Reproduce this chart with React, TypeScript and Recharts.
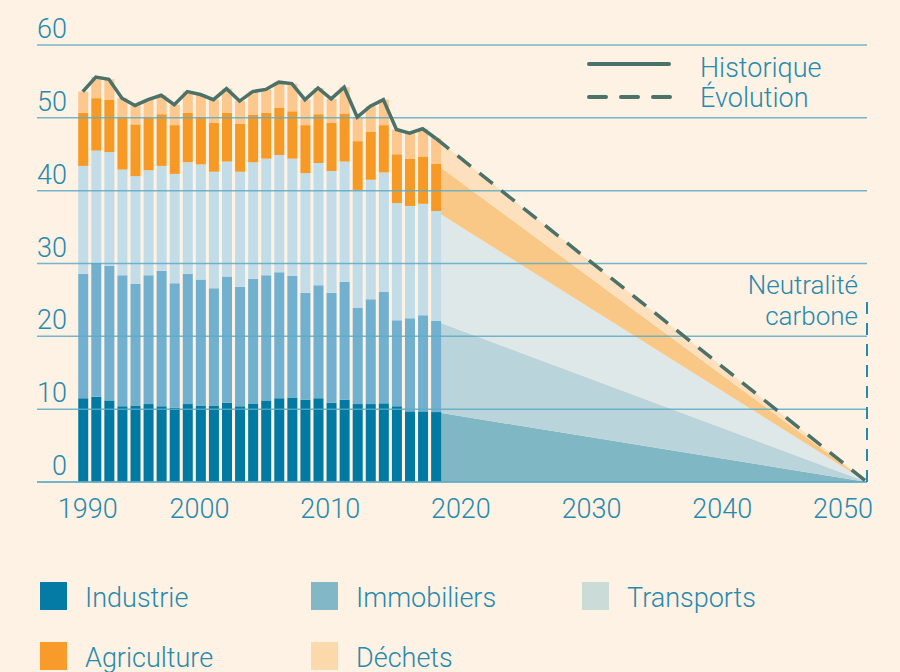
import React from 'react';
import {
  ComposedChart,
  Bar,
  Area,
  Line,
  XAxis,
  YAxis,
  ReferenceLine,
} from 'recharts';

// historique 1990-2017
const years = [
  1990, 1991, 1992, 1993, 1994, 1995, 1996, 1997, 1998, 1999,
  2000, 2001, 2002, 2003, 2004, 2005, 2006, 2007, 2008, 2009,
  2010, 2011, 2012, 2013, 2014, 2015, 2016, 2017,
];
const industrie = [11.5, 11.7, 11.2, 10.4, 10.5, 10.7, 10.4, 10.2, 10.7, 10.5, 10.5, 10.9, 10.4, 10.7, 11.2, 11.5, 11.6, 11.3, 11.5, 10.9, 11.3, 10.7, 10.7, 10.8, 10.4, 9.7, 9.7, 9.6];
const immobiliers = [17.1, 18.4, 18.5, 18.0, 16.7, 17.7, 18.6, 17.1, 17.9, 17.3, 16.1, 17.3, 16.4, 17.2, 17.2, 17.3, 16.7, 14.7, 15.5, 15.1, 16.2, 13.2, 14.4, 15.3, 11.8, 12.8, 13.2, 12.5];
const transports = [14.8, 15.4, 15.6, 14.5, 14.8, 14.4, 14.4, 15.0, 15.3, 15.8, 16.0, 15.8, 15.8, 16.0, 16.0, 16.1, 16.1, 16.4, 16.8, 16.7, 16.5, 16.2, 16.4, 16.4, 16.1, 15.4, 15.3, 15.1];
const agriculture = [7.3, 7.2, 7.2, 7.2, 7.1, 7.2, 7.1, 6.7, 6.8, 6.5, 6.7, 6.7, 6.6, 6.5, 6.3, 6.5, 6.5, 6.6, 6.7, 6.6, 6.6, 6.7, 6.6, 6.5, 6.7, 6.5, 6.5, 6.5];
const dechets = [2.9, 2.9, 2.8, 2.6, 2.6, 2.5, 2.6, 2.8, 2.9, 3.1, 3.2, 3.3, 3.1, 3.2, 3.2, 3.5, 3.8, 3.5, 3.6, 3.3, 3.6, 3.3, 3.5, 3.5, 3.4, 3.5, 3.8, 3.5];

// trajectoire vers la neutralité
const neutralYear = 2050;
const neutralValue = 0;

const xTicks = [1990, 2000, 2010, 2020, 2030, 2040, 2050];
const yTicks = [0, 10, 20, 30, 40, 50, 60];

const BG = '#fef2e4';
const TEXT = '#2789ad';
const GRID = '#5eaac4';
const LINE = '#4b7168';
const FONT = 'Roboto, "Liberation Sans", sans-serif';

const series = [
  { key: 'ind', name: 'Industrie', values: industrie, bar: '#0079a3', area: '#80b7c4', legend: '#037ba5' },
  { key: 'imm', name: 'Immobiliers', values: immobiliers, bar: '#71b1cf', area: '#bad4dc', legend: '#82b8c5' },
  { key: 'tra', name: 'Transports', values: transports, bar: '#c3dde8', area: '#dfe8e8', legend: '#cbdcd8' },
  { key: 'agr', name: 'Agriculture', values: agriculture, bar: '#f79a25', area: '#f9c887', legend: '#f89b2a' },
  { key: 'dec', name: 'Déchets', values: dechets, bar: '#fdc88e', area: '#fde0bd', legend: '#fcd9aa' },
];

const last = years.length - 1;
const data: any[] = years.map((year, i) => {
  const row: any = { year };
  let total = 0;
  series.forEach((s) => {
    row[s.key] = s.values[i];
    total += s.values[i];
  });
  row.hist = +total.toFixed(1);
  if (i === last) {
    series.forEach((s) => (row['p_' + s.key] = s.values[i]));
    row.evol = row.hist;
  }
  return row;
});
const endRow: any = { year: neutralYear, evol: neutralValue };
series.forEach((s) => (endRow['p_' + s.key] = neutralValue));
data.push(endRow);

const XTick = ({ x, y, payload }: any) => {
  const shift = payload.value === 1990 ? 5 : payload.value === 2050 ? -24 : -14;
  return (
    <text x={x + shift} y={y + 36} textAnchor="middle" fill={TEXT} fontSize={27} fontFamily={FONT} fontWeight={300}>
      {payload.value}
    </text>
  );
};

const YTick = ({ x, y, payload }: any) => (
  <text x={x + 30} y={y - 7} textAnchor="end" fill={TEXT} fontSize={27} fontFamily={FONT} fontWeight={300}>
    {payload.value}
  </text>
);

const NeutralLabel = ({ viewBox }: any) => {
  const x = viewBox.x - 9;
  const y = viewBox.y;
  return (
    <text textAnchor="end" fill={TEXT} fontSize={26} fontFamily={FONT} fontWeight={300}>
      <tspan x={x} y={y - 6}>Neutralité</tspan>
      <tspan x={x} y={y + 25}>carbone</tspan>
    </text>
  );
};

export default function App() {
  return (
    <div style={{ position: 'absolute', left: 0, top: 0, width: 900, height: 672, background: BG, fontFamily: FONT, overflow: 'hidden' }}>
      <ComposedChart width={900} height={540} data={data} margin={{ top: 45, right: 33, left: 0, bottom: 18 }}>
        <XAxis
          dataKey="year"
          type="number"
          domain={[1986.5, neutralYear]}
          ticks={xTicks}
          allowDataOverflow
          axisLine={false}
          tickLine={false}
          tickSize={0}
          tickMargin={0}
          height={40}
          tick={<XTick />}
        />
        <YAxis
          type="number"
          domain={[0, 60]}
          ticks={yTicks}
          width={37}
          axisLine={false}
          tickLine={false}
          tickSize={0}
          tickMargin={0}
          tick={<YTick />}
        />
        {series.map((s) => (
          <Area
            key={'p_' + s.key}
            dataKey={'p_' + s.key}
            stackId="proj"
            type="linear"
            stroke="none"
            fill={s.area}
            fillOpacity={1}
            isAnimationActive={false}
          />
        ))}
        {series.map((s) => (
          <Bar key={s.key} dataKey={s.key} stackId="hist" fill={s.bar} barSize={10} isAnimationActive={false} />
        ))}
        {yTicks.map((v) => (
          <ReferenceLine key={v} y={v} stroke={GRID} strokeWidth={v === 0 ? 2 : 1.5} strokeOpacity={0.85} />
        ))}
        <Line dataKey="hist" stroke={LINE} strokeWidth={3.5} dot={false} activeDot={false} isAnimationActive={false} />
        <Line
          dataKey="evol"
          stroke={LINE}
          strokeWidth={3.5}
          strokeDasharray="17 11"
          dot={false}
          activeDot={false}
          isAnimationActive={false}
        />
        <ReferenceLine
          segment={[{ x: neutralYear, y: 0 }, { x: neutralYear, y: 25 }]}
          stroke={TEXT}
          strokeWidth={2}
          strokeDasharray="12 9"
          label={<NeutralLabel />}
        />
      </ComposedChart>

      <div style={{ position: 'absolute', left: 587, top: 50 }}>
        <svg width={90} height={60} style={{ position: 'absolute', left: 0, top: 0 }}>
          <line x1={2} x2={82} y1={14} y2={14} stroke={LINE} strokeWidth={4} strokeLinecap="round" />
          <line x1={2} x2={84} y1={47} y2={47} stroke={LINE} strokeWidth={4} strokeLinecap="round" strokeDasharray="17 15" />
        </svg>
        <div style={{ position: 'absolute', left: 113, top: 3, color: TEXT, fontSize: 27, fontWeight: 300, lineHeight: '30px', whiteSpace: 'nowrap' }}>
          <div>Historique</div>
          <div>Évolution</div>
        </div>
      </div>

      <div style={{ position: 'absolute', left: 40, top: 582, width: 860 }}>
        {series.map((s, i) => (
          <div
            key={s.key}
            style={{
              position: 'absolute',
              left: (i % 3) * 271,
              top: Math.floor(i / 3) * 60,
              display: 'flex',
              alignItems: 'center',
              height: 28,
            }}
          >
            <div style={{ width: 27, height: 28, background: s.legend }} />
            <span style={{ marginLeft: 18, marginTop: 3, color: TEXT, fontSize: 27, fontWeight: 300, whiteSpace: 'nowrap' }}>{s.name}</span>
          </div>
        ))}
      </div>
    </div>
  );
}
